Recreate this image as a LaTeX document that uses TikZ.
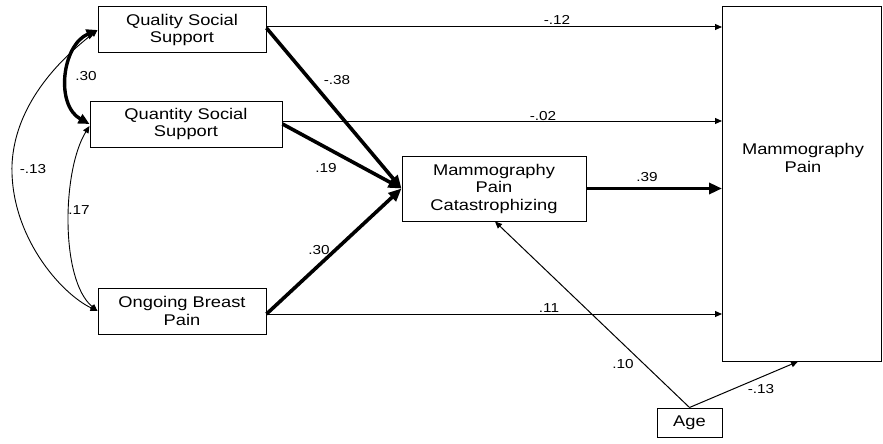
\documentclass[tikz,border=0pt]{standalone}
\usepackage{fontspec}
\setmainfont[FakeStretch=1.18]{Liberation Sans}
\usetikzlibrary{arrows.meta}

\tikzset{
  varbox/.style={draw=black, line width=1pt, inner sep=0pt, align=center,
    font=\fontsize{15.5pt}{17.5pt}\selectfont},
  coef/.style={inner sep=0pt, font=\fontsize{13pt}{15pt}\selectfont},
  thinpath/.style={line width=1pt, -{Triangle[length=7pt,width=6pt]}},
  thickpath/.style={line width=3.6pt, -{Triangle[length=13pt,width=11pt]}},
  thincov/.style={line width=0.9pt, {Triangle[length=7pt,width=6pt]}-{Triangle[length=7pt,width=6pt]}},
  thickcov/.style={line width=3.4pt, {Triangle[length=11pt,width=10pt]}-{Triangle[length=11pt,width=10pt]}},
}

\begin{document}
\begin{tikzpicture}[x=1pt, y=-1pt]
  \useasboundingbox (0,0) rectangle (883,444);

  % variables
  \node[varbox, minimum width=168pt, minimum height=46pt] (qual)  at (182,30)    {Quality Social\\Support};
  \node[varbox, minimum width=192pt, minimum height=46pt] (quant) at (186,124)   {Quantity Social\\Support};
  \node[varbox, minimum width=168pt, minimum height=46pt] (ongo)  at (182,311)   {Ongoing Breast\\Pain};
  \node[varbox, minimum width=184pt, minimum height=65pt] (cat)   at (494,188.5) {Mammography\\Pain\\Catastrophizing};
  \node[varbox, minimum width=159pt, minimum height=354pt] (mp)   at (802,184)   {};
  \node[varbox, draw=none] (mptext) at (803,158) {Mammography\\Pain};
  \node[varbox, minimum width=65pt, minimum height=29pt] (age)    at (689.5,422.5) {Age};

  % direct paths to the outcome
  \draw[thinpath] ([yshift=3pt]qual.east)  -- ([yshift=3pt]qual.east -| mp.west);
  \draw[thinpath] ([yshift=3pt]quant.east) -- ([yshift=3pt]quant.east -| mp.west);
  \draw[thinpath] ([yshift=-3pt]ongo.east) -- ([yshift=-3pt]ongo.east -| mp.west);
  \draw[thickpath] (cat.east) -- (cat.east -| mp.west);

  % paths to catastrophizing
  \draw[thickpath] ([yshift=2pt]qual.east)  -- (cat.west);
  \draw[thickpath] (quant.east)             -- (cat.west);
  \draw[thickpath] ([yshift=-3pt]ongo.east) -- (cat.west);

  % age as covariate
  \draw[thinpath] (age.north) -- ([xshift=1pt]cat.south);
  \draw[thinpath] (age.north) -- ([xshift=-4pt]mp.south);

  % correlations among predictors
  \draw[thickcov] (qual.west) .. controls (62,45) and (55,105) .. (quant.west);
  \draw[thincov] (qual.west) .. controls (75,48) and (15,95) .. (12,165)
                             .. controls (10,235) and (60,293) .. (ongo.west);
  \draw[thincov] ([yshift=-2pt]quant.west) .. controls (62,170) and (60,280) .. (ongo.west);

  % coefficients
  \node[coef] (c1)  at (86,76)   {.30};
  \node[coef] (c2)  at (33,169)  {-.13};
  \node[coef] (c3)  at (79,210)  {.17};
  \node[coef] (c4)  at (557,20)  {-.12};
  \node[coef] (c5)  at (337,80)  {-.38};
  \node[coef] (c6)  at (543,116) {-.02};
  \node[coef] (c7)  at (326,168) {.19};
  \node[coef] (c8)  at (647,177) {.39};
  \node[coef] (c9)  at (319,250) {.30};
  \node[coef] (c10) at (549,308) {.11};
  \node[coef] (c11) at (623,364) {.10};
  \node[coef] (c12) at (761,389) {-.13};
\end{tikzpicture}
\end{document}
